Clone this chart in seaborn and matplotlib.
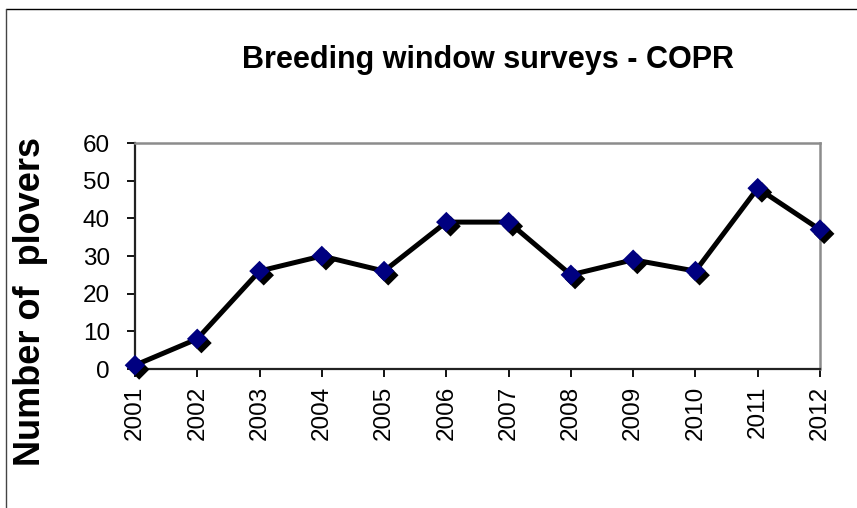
import matplotlib
matplotlib.use("Agg")
import matplotlib.pyplot as plt
import matplotlib.patheffects as pe
from matplotlib.lines import Line2D
import seaborn as sns

# survey counts
years = [2001, 2002, 2003, 2004, 2005, 2006, 2007, 2008, 2009, 2010, 2011, 2012]
plovers = [1, 8, 26, 30, 26, 39, 39, 25, 29, 26, 48, 37]
y_ticks = [0, 10, 20, 30, 40, 50, 60]

sns.set_style("ticks")
plt.rcParams['font.family'] = ['Liberation Sans', 'DejaVu Sans']

fig = plt.figure(figsize=(8.57, 5.08), dpi=100)
ax = fig.add_axes([0.1575, 0.2736, 0.7993, 0.4449])

sns.lineplot(x=years, y=plovers, color='black', linewidth=3.6, ax=ax, clip_on=False)
sns.scatterplot(x=years, y=plovers, marker='D', s=110, color='#000080',
                edgecolor='none', ax=ax, clip_on=False, zorder=5,
                path_effects=[pe.SimplePatchShadow(offset=(3, -3), shadow_rgbFace='black', alpha=1.0),
                              pe.Normal()])

ax.set_xlim(years[0], years[-1])
ax.set_ylim(0, 60)
ax.set_xticks(years)
ax.set_xticklabels([str(y) for y in years], rotation=90)
ax.set_yticks(y_ticks)
ax.tick_params(axis='both', labelsize=17.5, direction='out', length=6, width=1.3,
               color='black', labelcolor='black')
ax.tick_params(axis='x', pad=6)
ax.tick_params(axis='y', pad=12)

for side in ['left', 'bottom']:
    ax.spines[side].set_color('#222222')
    ax.spines[side].set_linewidth(1.6)
for side in ['top', 'right']:
    ax.spines[side].set_visible(True)
    ax.spines[side].set_color('#8c8c8c')
    ax.spines[side].set_linewidth(1.8)

ax.set_xlabel('')
ax.set_ylabel('')

fig.text(488 / 857, 1 - 60 / 508, 'Breeding window surveys - COPR', ha='center', va='center',
         fontsize=22, fontweight='bold', color='black')
fig.text(31 / 857, 1 - 302 / 508, 'Number of  plovers', ha='center', va='center',
         rotation=90, fontsize=26, fontweight='bold', color='black')

# outer chart frame (top and left edges visible)
fig.add_artist(Line2D([6 / 857, 1], [1 - 9 / 508, 1 - 9 / 508], transform=fig.transFigure,
                      color='black', linewidth=1.0))
fig.add_artist(Line2D([6 / 857, 6 / 857], [0, 1 - 9 / 508], transform=fig.transFigure,
                      color='#444444', linewidth=1.0))

fig.savefig('out.png', dpi=100)
